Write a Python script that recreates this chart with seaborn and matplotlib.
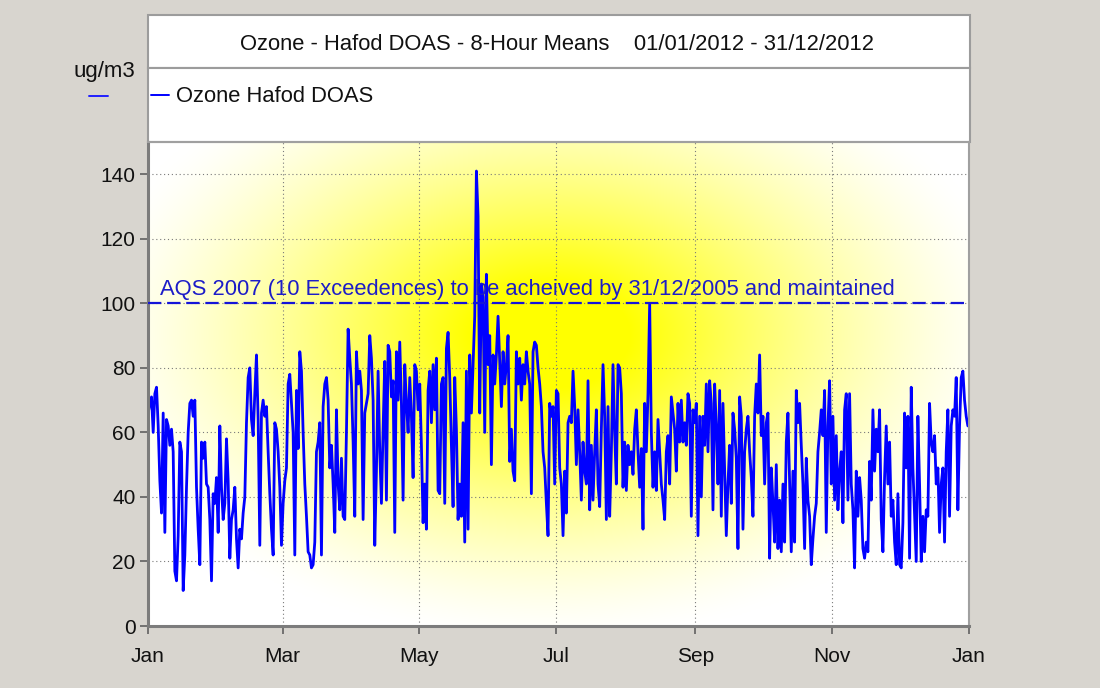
import numpy as np
import pandas as pd
import matplotlib
matplotlib.use("Agg")
import matplotlib.pyplot as plt
import matplotlib.dates as mdates
from matplotlib.patches import Rectangle
from matplotlib.lines import Line2D
import seaborn as sns

# Ozone 8-hour means (ug/m3) at Hafod DOAS during 2012, evenly spaced through the year,
# split into six consecutive blocks of roughly two months each.
ozone_block1 = [66, 69, 71, 60, 72, 74, 62, 45, 35, 66,
                29, 64, 62, 56, 61, 54, 17, 14, 28, 57,
                54, 11, 22, 43, 60, 69, 70, 65, 70, 43,
                30, 19, 57, 52, 57, 44, 43, 33, 14, 41,
                38, 46, 29, 62, 43, 33, 38, 58, 45, 21,
                33, 36, 43, 27, 18, 30, 27, 35, 40, 63,
                77, 80, 64, 59, 72, 84, 64, 25, 66, 70,
                65, 68, 54, 41, 30, 22, 63, 61, 54, 43,
                25, 38, 45, 49, 75]
ozone_block2 = [78, 69, 60, 22, 73, 55, 85, 79, 60, 44,
                34, 23, 22, 18, 19, 26, 54, 57, 63, 22,
                68, 75, 77, 70, 49, 56, 44, 29, 67, 44,
                36, 52, 34, 33, 60, 92, 83, 75, 57, 34,
                85, 75, 79, 73, 33, 66, 69, 72, 90, 83,
                70, 25, 48, 79, 54, 38, 61, 82, 39, 87,
                85, 71, 76, 29, 85, 70, 88, 69, 39, 81,
                69, 60, 77, 65, 46, 81, 79, 67, 75, 56,
                32, 44, 30, 73]
ozone_block3 = [79, 63, 81, 67, 83, 42, 41, 75, 77, 38,
                86, 91, 77, 56, 37, 77, 61, 33, 44, 34,
                63, 26, 79, 30, 84, 66, 81, 96, 141, 127,
                66, 106, 102, 60, 109, 81, 90, 50, 84, 75,
                84, 96, 82, 68, 85, 75, 81, 90, 51, 61,
                48, 45, 85, 75, 83, 70, 81, 75, 85, 79,
                75, 41, 85, 88, 87, 80, 75, 68, 54, 49,
                38, 28, 69, 65, 68, 44, 73, 72, 49, 44,
                28, 48, 35, 63]
ozone_block4 = [65, 63, 79, 68, 50, 67, 54, 39, 57, 48,
                44, 76, 36, 56, 39, 54, 67, 44, 37, 61,
                81, 65, 33, 68, 34, 54, 81, 60, 44, 81,
                80, 72, 43, 57, 42, 56, 50, 54, 47, 61,
                67, 54, 43, 55, 30, 69, 54, 72, 100, 60,
                43, 54, 42, 64, 54, 44, 39, 33, 54, 59,
                44, 71, 66, 61, 48, 69, 57, 70, 57, 63,
                56, 72, 69, 34, 67, 63, 69, 28, 65, 40,
                65, 56, 75, 54]
ozone_block5 = [76, 69, 36, 75, 62, 44, 73, 34, 69, 49,
                28, 44, 56, 38, 66, 61, 52, 24, 71, 65,
                30, 54, 61, 65, 54, 46, 34, 65, 75, 66,
                84, 59, 65, 44, 63, 66, 21, 49, 38, 26,
                50, 24, 39, 23, 44, 26, 57, 66, 44, 23,
                48, 26, 73, 63, 69, 56, 44, 24, 52, 39,
                34, 19, 27, 34, 38, 54, 60, 67, 59, 73,
                29, 62, 76, 44, 65, 39, 59, 36, 48, 54,
                32, 67, 72, 39]
ozone_block6 = [72, 44, 36, 18, 48, 34, 46, 39, 24, 21,
                26, 23, 51, 39, 67, 48, 61, 54, 67, 33,
                23, 46, 62, 44, 57, 34, 39, 26, 19, 41,
                19, 18, 32, 66, 49, 65, 21, 74, 49, 34,
                20, 65, 44, 20, 34, 23, 36, 34, 69, 57,
                54, 59, 44, 49, 29, 44, 49, 26, 54, 67,
                34, 62, 67, 65, 77, 36, 62, 77, 79, 70,
                65, 62]

aqs_limit = 100
aqs_label = "AQS 2007 (10 Exceedences) to be acheived by 31/12/2005 and maintained"
series_name = "Ozone Hafod DOAS"
unit_label = "ug/m3"
title_text = "Ozone - Hafod DOAS - 8-Hour Means    01/01/2012 - 31/12/2012"
y_ticks = [0, 20, 40, 60, 80, 100, 120, 140]

ozone = (ozone_block1 + ozone_block2 + ozone_block3 +
         ozone_block4 + ozone_block5 + ozone_block6)
times = pd.date_range("2012-01-01 02:00", "2012-12-31 12:00", periods=len(ozone))
df = pd.DataFrame({"time": times, "ozone": ozone})

sns.set_theme(style="white")
plt.rcParams["font.family"] = ["Liberation Sans", "DejaVu Sans"]

W, H = 1100, 688
fig = plt.figure(figsize=(W / 100, H / 100), dpi=100, facecolor="#d8d5cf")

def fx(px):
    return px / W

def fy(py):
    return 1 - py / H

left, right, top, bottom = 148, 969, 142, 626
rect = [fx(left), fy(bottom), fx(right) - fx(left), fy(top) - fy(bottom)]

# title and legend panels above the plot
box_style = dict(transform=fig.transFigure, facecolor="white",
                 edgecolor="#9c9c9c", lw=1.5)
fig.add_artist(Rectangle((fx(148), fy(68)), fx(970) - fx(148), fy(15) - fy(68), **box_style))
fig.add_artist(Rectangle((fx(148), fy(142)), fx(970) - fx(148), fy(68) - fy(142), **box_style))
fig.text(fx(557), fy(44), title_text, ha="center", va="center", fontsize=15.8, color="#111111")
fig.text(fx(104), fy(71), unit_label, ha="center", va="center", fontsize=16, color="#111111")
fig.add_artist(Line2D([fx(89), fx(108)], [fy(96), fy(96)], color="#2020ff", lw=1.4,
                      transform=fig.transFigure))

# radial yellow glow behind the plot
bg = fig.add_axes(rect, zorder=0)
gx, gy = np.meshgrid(np.linspace(0, 1, 500), np.linspace(0, 1, 320))
r = np.sqrt(((gx - 0.49) / 0.57) ** 2 + ((gy - 0.60) / 0.63) ** 2)
glow = np.clip(1.3 * np.clip(1 - r, 0, 1) ** 1.4, 0, 1)
rgb = np.ones((320, 500, 3))
rgb[..., 2] = 1 - glow
bg.imshow(rgb, origin="lower", aspect="auto", extent=[0, 1, 0, 1], interpolation="bilinear")
bg.set_axis_off()

ax = fig.add_axes(rect, zorder=1)
ax.set_facecolor("none")
sns.lineplot(data=df, x="time", y="ozone", ax=ax, color="#0000ff", lw=2.0, legend=False)

ax.axhline(aqs_limit, color="#1414d8", lw=1.6, dashes=(6, 2.6), zorder=3)
ax.text(0.015, aqs_limit + 1.0, aqs_label, transform=ax.get_yaxis_transform(),
        ha="left", va="bottom", fontsize=15.8, color="#1c1cc8", zorder=4)

ax.set_xlim(pd.Timestamp("2012-01-01"), pd.Timestamp("2013-01-01"))
ax.set_ylim(0, 150)
ax.set_yticks(y_ticks)
ax.xaxis.set_major_locator(mdates.MonthLocator(bymonth=[1, 3, 5, 7, 9, 11]))
ax.xaxis.set_major_formatter(mdates.DateFormatter("%b"))
ax.set_xlabel("")
ax.set_ylabel("")
ax.grid(True, color="#7a7a7a", ls=(0, (1, 2.5)), lw=0.8)
ax.tick_params(axis="both", bottom=True, left=True, direction="out", length=6,
               width=1.2, color="#606060", labelsize=15, labelcolor="#111111")
ax.tick_params(axis="x", pad=9)
ax.tick_params(axis="y", pad=3)
for side in ("left", "bottom"):
    ax.spines[side].set_color("#7c7c7c")
    ax.spines[side].set_linewidth(2.2)
for side in ("top", "right"):
    ax.spines[side].set_color("#a0a0a0")
    ax.spines[side].set_linewidth(1.5)

fig.legend(handles=[Line2D([], [], color="#0000ff", lw=1.4)], labels=[series_name],
           loc="center left", bbox_to_anchor=(fx(151), fy(97)), frameon=False,
           handlelength=0.8, handletextpad=0.35, borderaxespad=0, borderpad=0,
           fontsize=15.8, labelcolor="#111111")

fig.savefig("out.png", dpi=100, facecolor=fig.get_facecolor())
